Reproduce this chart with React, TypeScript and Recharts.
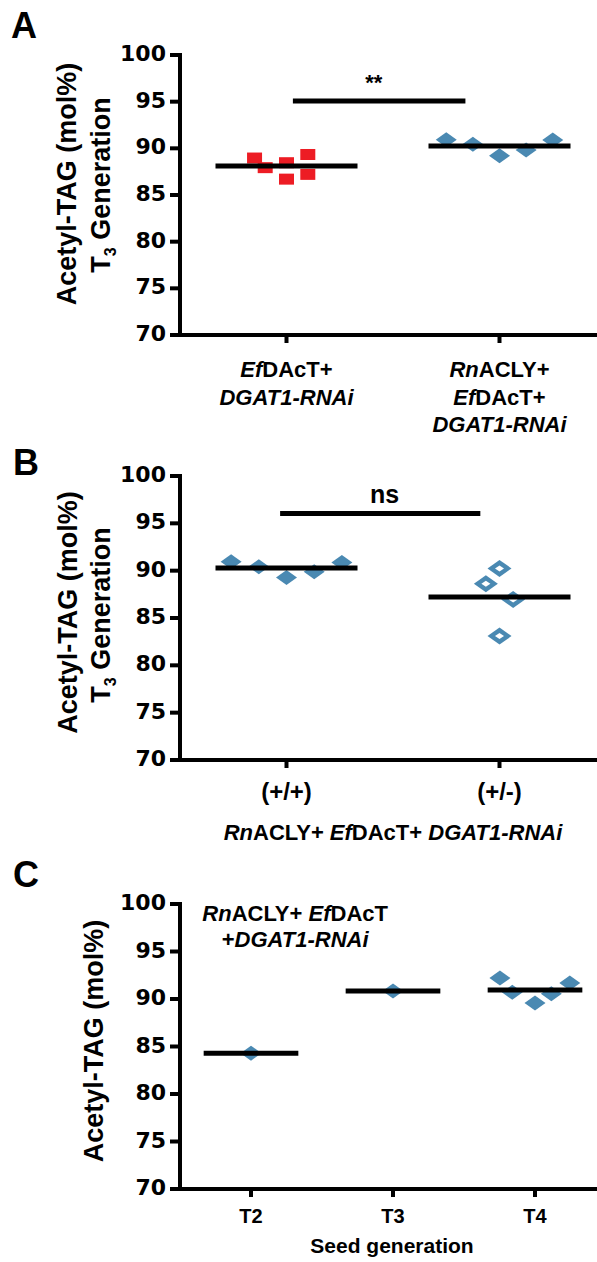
import React from 'react';
import { ScatterChart, Scatter, XAxis, YAxis, ReferenceLine, ReferenceDot } from 'recharts';

const FONT = '"Liberation Sans", Arial, Helvetica, sans-serif';
const NUM_FONT = '"DejaVu Sans", "Liberation Sans", sans-serif';
const RED = '#ED1C24';
const BLUE = '#4A89B2';
const INK = '#000000';

const yTicks = [70, 75, 80, 85, 90, 95, 100];

// ---------- Panel A ----------
const aCategories = ['EfDAcT+ DGAT1-RNAi', 'RnACLY+ EfDAcT+ DGAT1-RNAi'];
const aEfDAcT = [88.96, 87.93, 88.46, 86.7, 89.34, 87.21];
const aEfDAcTJitter = [-0.15, -0.1, 0, 0, 0.1, 0.1];
const aRnACLY = [90.92, 90.43, 89.2, 89.82, 90.89];
const aRnACLYJitter = [-0.25, -0.125, 0, 0.125, 0.25];
const aSigSpan = [0.53, 1.34];
const aSigLevel = 95.07;
const aSigLabel = '**';
const aSigLabelPos = [0.91, 96.3];

// ---------- Panel B ----------
const bCategories = ['(+/+)', '(+/-)'];
const bHomo = [90.94, 90.41, 89.28, 89.88, 90.87];
const bHomoJitter = [-0.26, -0.13, 0, 0.13, 0.26];
const bHet = [90.24, 88.62, 86.96, 83.09];
const bHetJitter = [0, -0.064, 0.064, 0];
const bSigSpan = [0.47, 1.41];
const bSigLevel = 96.05;
const bSigLabel = 'ns';
const bSigLabelPos = [0.96, 97.17];
const bTitle = [{ t: 'Rn', i: true }, { t: 'ACLY+ ' }, { t: 'Ef', i: true }, { t: 'DAcT+ ' }, { t: 'DGAT1-RNAi', i: true }];

// ---------- Panel C ----------
const cCategories = ['T2', 'T3', 'T4'];
const cT2 = [84.3];
const cT3 = [90.85];
const cT4 = [92.2, 90.7, 89.58, 90.55, 91.68];
const cT4Jitter = [-0.247, -0.16, 0, 0.115, 0.245];
const cAnnotation = [
  [{ t: 'Rn', i: true }, { t: 'ACLY+ ' }, { t: 'Ef', i: true }, { t: 'DAcT' }],
  [{ t: '+' }, { t: 'DGAT1-RNAi', i: true }],
];
const cAnnotationPos = [0.811, 98.2];
const cXTitle = 'Seed generation';

type Seg = { t: string; i?: boolean };

const aTickLines: Seg[][][] = [
  [[{ t: 'Ef', i: true }, { t: 'DAcT+' }], [{ t: 'DGAT1-RNAi', i: true }]],
  [[{ t: 'Rn', i: true }, { t: 'ACLY+' }], [{ t: 'Ef', i: true }, { t: 'DAcT+' }], [{ t: 'DGAT1-RNAi', i: true }]],
];
const bTickLines: Seg[][][] = bCategories.map((c) => [[{ t: c }]]);
const cTickLines: Seg[][][] = cCategories.map((c) => [[{ t: c }]]);

const pts = (vals: number[], center: number, jitter?: number[]) =>
  vals.map((v, i) => ({ x: center + (jitter ? jitter[i] : 0), y: v }));
const mean = (v: number[]) => v.reduce((a, b) => a + b, 0) / v.length;
const meanSeg = (vals: number[], center: number) => [
  { x: center - 1 / 3, y: mean(vals) },
  { x: center + 1 / 3, y: mean(vals) },
];

const Rich = ({ x, y, segs, size, anchor = 'middle' }: any) => (
  <text x={x} y={y} textAnchor={anchor} fontFamily={FONT} fontWeight="bold" fontSize={size} fill={INK} style={{ whiteSpace: 'pre' }}>
    {segs.map((s: Seg, k: number) => (
      <tspan key={k} fontStyle={s.i ? 'italic' : 'normal'}>{s.t}</tspan>
    ))}
  </text>
);

const Square = (p: any) => <rect x={p.cx - 7.5} y={p.cy - 5.5} width={15} height={11} fill={RED} />;
const Diamond = (p: any) => (
  <polygon points={`${p.cx - 10.5},${p.cy} ${p.cx},${p.cy - 7.5} ${p.cx + 10.5},${p.cy} ${p.cx},${p.cy + 7.5}`} fill={BLUE} />
);
const OpenDiamond = (p: any) => (
  <g>
    <polygon points={`${p.cx - 12},${p.cy} ${p.cx},${p.cy - 8.5} ${p.cx + 12},${p.cy} ${p.cx},${p.cy + 8.5}`} fill={BLUE} />
    <polygon points={`${p.cx - 4.5},${p.cy} ${p.cx},${p.cy - 3} ${p.cx + 4.5},${p.cy} ${p.cx},${p.cy + 3}`} fill="#ffffff" />
  </g>
);
const NoDot = () => <g />;

const YTick = (p: any) => (
  <text x={p.x} y={p.y + 6} textAnchor="end" fontFamily={NUM_FONT} fontWeight="bold" fontSize={22} fill={INK}>
    {p.payload.value}
  </text>
);

const makeXTick = (lines: Seg[][][], baselines: number[], size: number) => (p: any) => {
  const idx = Math.round(p.payload.value - 0.5);
  const ls = lines[idx] || [];
  return (
    <g>
      {ls.map((segs, k) => (
        <Rich key={k} x={p.x} y={baselines[k]} segs={segs} size={size} />
      ))}
    </g>
  );
};

const YTitle = ({ x1, cy1, x2, cy2 }: any) => (
  <g>
    <text transform={`rotate(-90 ${x1} ${cy1})`} x={x1} y={cy1} textAnchor="middle" fontFamily={FONT} fontWeight="bold" fontSize={27} fill={INK}>
      Acetyl-TAG (mol%)
    </text>
    {x2 !== undefined && (
      <text transform={`rotate(-90 ${x2} ${cy2})`} x={x2} y={cy2} textAnchor="middle" fontFamily={FONT} fontWeight="bold" fontSize={27} fill={INK}>
        T<tspan fontSize={16} dy={6}>3</tspan>
        <tspan dy={-6}> Generation</tspan>
      </text>
    )}
  </g>
);

const axisLine = { stroke: INK, strokeWidth: 4, strokeLinecap: 'square' as const };
const tickLine = { stroke: INK, strokeWidth: 4 };
const W = 620;

const yAxisProps = {
  type: 'number' as const,
  dataKey: 'y',
  domain: [70, 100],
  ticks: yTicks,
  interval: 0 as const,
  width: 180,
  tickSize: 10,
  tickMargin: 4,
  axisLine,
  tickLine,
  tick: (p: any) => <YTick {...p} />,
};

const SigText = (label: string, size: number) => (p: any) => (
  <text x={p.cx} y={p.cy} textAnchor="middle" fontFamily={FONT} fontWeight="bold" fontSize={size} fill={INK}>
    {label}
  </text>
);

const PanelA = () => (
  <ScatterChart width={W} height={440} margin={{ top: 55, right: 14, bottom: 0, left: 0 }}>
    <XAxis
      type="number"
      dataKey="x"
      domain={[0, 2]}
      ticks={[0.5, 1.5]}
      interval={0}
      height={105}
      tickSize={8}
      axisLine={axisLine}
      tickLine={tickLine}
      tick={makeXTick(aTickLines, [377, 404.5, 432], 22)}
    />
    <YAxis {...yAxisProps} label={<YTitle x1={76} cy1={184} x2={110} cy2={185} />} />
    <ReferenceLine segment={[{ x: aSigSpan[0], y: aSigLevel }, { x: aSigSpan[1], y: aSigLevel }]} stroke={INK} strokeWidth={5} />
    <ReferenceDot x={aSigLabelPos[0]} y={aSigLabelPos[1]} r={0} shape={SigText(aSigLabel, 22)} />
    <Scatter name={aCategories[0]} data={pts(aEfDAcT, 0.5, aEfDAcTJitter)} shape={Square} isAnimationActive={false} />
    <Scatter name={aCategories[1]} data={pts(aRnACLY, 1.5, aRnACLYJitter)} shape={Diamond} isAnimationActive={false} />
    <Scatter data={meanSeg(aEfDAcT, 0.5)} line={{ stroke: INK, strokeWidth: 5 }} shape={NoDot} isAnimationActive={false} />
    <Scatter data={meanSeg(aRnACLY, 1.5)} line={{ stroke: INK, strokeWidth: 5 }} shape={NoDot} isAnimationActive={false} />
  </ScatterChart>
);

const BTitle = () => <Rich x={393} y={400} segs={bTitle} size={22} />;

const PanelB = () => (
  <ScatterChart width={W} height={420} margin={{ top: 36, right: 14, bottom: 0, left: 0 }}>
    <XAxis
      type="number"
      dataKey="x"
      domain={[0, 2]}
      ticks={[0.5, 1.5]}
      interval={0}
      height={100}
      tickSize={8}
      axisLine={axisLine}
      tickLine={tickLine}
      tick={makeXTick(bTickLines, [360], 24)}
      label={<BTitle />}
    />
    <YAxis {...yAxisProps} label={<YTitle x1={77} cy1={172.5} x2={110} cy2={175} />} />
    <ReferenceLine segment={[{ x: bSigSpan[0], y: bSigLevel }, { x: bSigSpan[1], y: bSigLevel }]} stroke={INK} strokeWidth={5} />
    <ReferenceDot x={bSigLabelPos[0]} y={bSigLabelPos[1]} r={0} shape={SigText(bSigLabel, 25)} />
    <Scatter name={bCategories[0]} data={pts(bHomo, 0.5, bHomoJitter)} shape={Diamond} isAnimationActive={false} />
    <Scatter name={bCategories[1]} data={pts(bHet, 1.5, bHetJitter)} shape={OpenDiamond} isAnimationActive={false} />
    <Scatter data={meanSeg(bHomo, 0.5)} line={{ stroke: INK, strokeWidth: 5 }} shape={NoDot} isAnimationActive={false} />
    <Scatter data={meanSeg(bHet, 1.5)} line={{ stroke: INK, strokeWidth: 5 }} shape={NoDot} isAnimationActive={false} />
  </ScatterChart>
);

const CTitle = () => (
  <text x={392} y={393} textAnchor="middle" fontFamily={FONT} fontWeight="bold" fontSize={21} fill={INK}>
    {cXTitle}
  </text>
);

const Annotation = (p: any) => (
  <g>
    {cAnnotation.map((segs, k) => (
      <Rich key={k} x={p.cx} y={p.cy + k * 26} segs={segs} size={22} />
    ))}
  </g>
);

const PanelC = () => (
  <ScatterChart width={W} height={402} margin={{ top: 44, right: 14, bottom: 0, left: 0 }}>
    <XAxis
      type="number"
      dataKey="x"
      domain={[0, 3]}
      ticks={[0.5, 1.5, 2.5]}
      interval={0}
      height={73}
      tickSize={8}
      axisLine={axisLine}
      tickLine={tickLine}
      tick={makeXTick(cTickLines, [363], 20)}
      label={<CTitle />}
    />
    <YAxis {...yAxisProps} label={<YTitle x1={103} cy1={181} />} />
    <ReferenceDot x={cAnnotationPos[0]} y={cAnnotationPos[1]} r={0} shape={Annotation} />
    <Scatter name={cCategories[0]} data={pts(cT2, 0.5)} shape={Diamond} isAnimationActive={false} />
    <Scatter name={cCategories[1]} data={pts(cT3, 1.5)} shape={Diamond} isAnimationActive={false} />
    <Scatter name={cCategories[2]} data={pts(cT4, 2.5, cT4Jitter)} shape={Diamond} isAnimationActive={false} />
    <Scatter data={meanSeg(cT2, 0.5)} line={{ stroke: INK, strokeWidth: 5 }} shape={NoDot} isAnimationActive={false} />
    <Scatter data={meanSeg(cT3, 1.5)} line={{ stroke: INK, strokeWidth: 5 }} shape={NoDot} isAnimationActive={false} />
    <Scatter data={meanSeg(cT4, 2.5)} line={{ stroke: INK, strokeWidth: 5 }} shape={NoDot} isAnimationActive={false} />
  </ScatterChart>
);

const panelLetters = [
  { t: 'A', x: 11, y: 38 },
  { t: 'B', x: 13, y: 475 },
  { t: 'C', x: 13, y: 887 },
];

export default function App() {
  return (
    <div style={{ position: 'absolute', left: 0, top: 0, width: 597, height: 1262, overflow: 'hidden', background: '#ffffff' }}>
      <div style={{ position: 'absolute', left: 0, top: 0, width: W, height: 440 }}>
        <PanelA />
      </div>
      <div style={{ position: 'absolute', left: 0, top: 440, width: W, height: 420 }}>
        <PanelB />
      </div>
      <div style={{ position: 'absolute', left: 0, top: 860, width: W, height: 402 }}>
        <PanelC />
      </div>
      <svg width={597} height={1262} style={{ position: 'absolute', left: 0, top: 0, pointerEvents: 'none' }}>
        {panelLetters.map((l) => (
          <text key={l.t} x={l.x} y={l.y} fontFamily={FONT} fontWeight="bold" fontSize={36} fill={INK}>
            {l.t}
          </text>
        ))}
      </svg>
    </div>
  );
}
